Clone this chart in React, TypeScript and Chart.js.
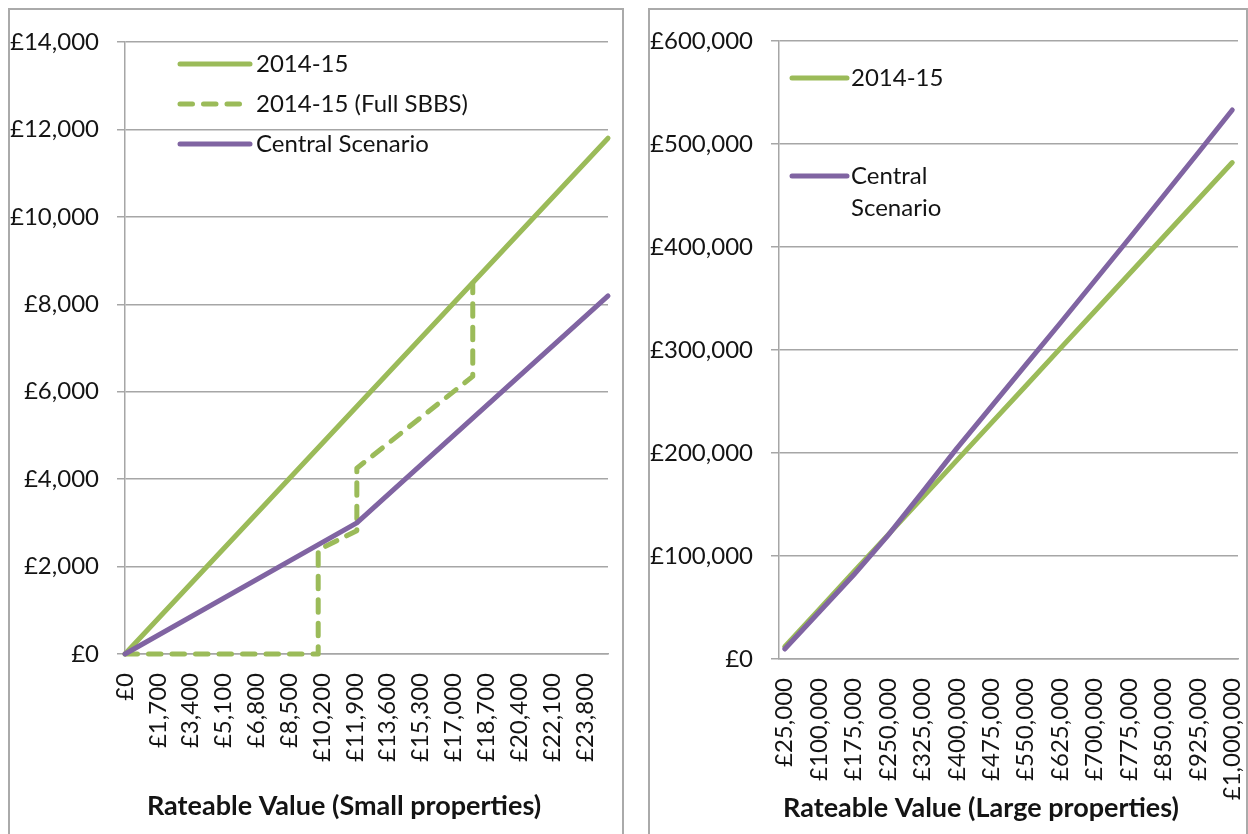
import React, { useEffect, useRef } from "react";
import { Chart, registerables } from "chart.js";

Chart.register(...registerables);

// ---------- DATA ----------
// Left chart: small properties (rateable value, £)
const smallXTicks = [0, 1700, 3400, 5100, 6800, 8500, 10200, 11900, 13600, 15300, 17000, 18700, 20400, 22100, 23800];
const smallYTicks = [0, 2000, 4000, 6000, 8000, 10000, 12000, 14000];
const small2014X = [0, 25000];
const small2014Y = [0, 11800];
const smallSbbsX = [0, 10000, 10000, 12000, 12000, 18000, 18000];
const smallSbbsY = [0, 0, 2380, 2820, 4250, 6350, 8480];
const smallCentralX = [0, 12000, 25000];
const smallCentralY = [0, 3000, 8190];
const smallLegend = [["2014-15"], ["2014-15 (Full SBBS)"], ["Central Scenario"]];
const smallTitle = "Rateable Value (Small properties)";

// Right chart: large properties
const largeXTicks = [25000, 100000, 175000, 250000, 325000, 400000, 475000, 550000, 625000, 700000, 775000, 850000, 925000, 1000000];
const largeYTicks = [0, 100000, 200000, 300000, 400000, 500000, 600000];
const large2014Y = [12000, 48200, 84400, 120500, 156700, 192800, 229000, 265100, 301300, 337400, 373600, 409700, 445900, 482000];
const largeCentralY = [9700, 45600, 81500, 120000, 162000, 204500, 245000, 285500, 326000, 367000, 408000, 449500, 491000, 533000];
const largeLegend = [["2014-15"], ["Central", "Scenario"]];
const largeTitle = "Rateable Value (Large properties)";

// ---------- STYLE ----------
const GREEN = "#9BBB59";
const PURPLE = "#8064A2";
const GRID = "#a6a6a6";
const TEXT = "#141414";
const FONT = "Lato, 'Open Sans', sans-serif";
const FS = 24;
const TITLE_FS = 27;
const DASH = [12.5, 11];

const pts = (xs: number[], ys: number[]) => xs.map((x, i) => ({ x, y: ys[i] }));
const money = (v: number) => "£" + Math.round(v).toLocaleString("en-GB");

const inlineLegend = {
  id: "inlineLegend",
  afterDraw(chart: any, _args: any, opts: any) {
    const { ctx, chartArea } = chart;
    chart.data.datasets.forEach((ds: any, i: number) => {
      const lines: string[] = opts.labels[i];
      const y = chartArea.top + opts.rows[i];
      const x0 = chartArea.left + opts.x0;
      let len = opts.x1 - opts.x0;
      const dash: number[] = ds.borderDash || [];
      if (dash.length === 2) {
        const period = dash[0] + dash[1];
        len = Math.floor((len + dash[1]) / period) * period - dash[1];
      }
      ctx.save();
      ctx.strokeStyle = ds.borderColor;
      ctx.lineWidth = ds.borderWidth;
      ctx.lineCap = "round";
      ctx.setLineDash(dash);
      ctx.beginPath();
      ctx.moveTo(x0, y);
      ctx.lineTo(x0 + len, y);
      ctx.stroke();
      ctx.setLineDash([]);
      ctx.fillStyle = TEXT;
      ctx.font = `${FS}px ${FONT}`;
      ctx.textBaseline = "middle";
      ctx.textAlign = "left";
      lines.forEach((t, j) => ctx.fillText(t, chartArea.left + opts.textX, y + j * opts.lineGap));
      ctx.restore();
    });
  },
};

const axisTitle = {
  id: "axisTitle",
  afterDraw(chart: any, _args: any, opts: any) {
    const { ctx } = chart;
    ctx.save();
    ctx.fillStyle = TEXT;
    ctx.font = `bold ${TITLE_FS}px ${FONT}`;
    ctx.textAlign = "center";
    ctx.textBaseline = "middle";
    ctx.fillText(opts.text, opts.x, opts.y);
    ctx.restore();
  },
};

function makeConfig(p: {
  datasets: any[];
  xMin: number;
  xMax: number;
  xTicks: number[];
  yTicks: number[];
  yWidth: number;
  xHeight: number;
  padding: any;
  legend: any;
  title: any;
}) {
  return {
    type: "line" as const,
    data: { datasets: p.datasets },
    plugins: [inlineLegend, axisTitle],
    options: {
      responsive: false,
      animation: false as const,
      layout: { padding: p.padding },
      elements: { point: { radius: 0, hoverRadius: 0 }, line: { tension: 0 } },
      plugins: {
        legend: { display: false },
        tooltip: { enabled: false },
        inlineLegend: p.legend,
        axisTitle: p.title,
      },
      scales: {
        x: {
          type: "linear" as const,
          min: p.xMin,
          max: p.xMax,
          afterBuildTicks: (s: any) => {
            s.ticks = p.xTicks.map((v) => ({ value: v }));
          },
          afterFit: (s: any) => {
            s.height = p.xHeight;
            s.paddingLeft = 0;
            s.paddingRight = 0;
          },
          grid: { display: false },
          border: { display: true, color: GRID, width: 1.5 },
          ticks: {
            autoSkip: false,
            minRotation: 90,
            maxRotation: 90,
            padding: 11,
            color: TEXT,
            font: { family: FONT, size: FS },
            callback: (v: any) => money(Number(v)),
          },
        },
        y: {
          type: "linear" as const,
          min: p.yTicks[0],
          max: p.yTicks[p.yTicks.length - 1],
          afterBuildTicks: (s: any) => {
            s.ticks = p.yTicks.map((v) => ({ value: v }));
          },
          afterFit: (s: any) => {
            s.width = p.yWidth;
            s.paddingTop = 0;
            s.paddingBottom = 0;
          },
          grid: { color: GRID, lineWidth: 1.5, tickLength: 8, drawTicks: true },
          border: { display: true, color: GRID, width: 1.5 },
          ticks: {
            padding: 18,
            color: TEXT,
            font: { family: FONT, size: FS },
            callback: (v: any) => money(Number(v)),
          },
        },
      },
    },
  };
}

const lineStyle = (color: string, extra: any = {}) => ({
  borderColor: color,
  backgroundColor: color,
  borderWidth: 5,
  borderCapStyle: "round",
  borderJoinStyle: "round",
  pointRadius: 0,
  fill: false,
  clip: 8,
  ...extra,
});

function ChartCanvas({ config, width, height, left, top }: any) {
  const ref = useRef<HTMLCanvasElement | null>(null);
  useEffect(() => {
    if (!ref.current) return;
    const chart = new Chart(ref.current, config);
    return () => chart.destroy();
  }, []);
  return (
    <canvas
      ref={ref}
      width={width}
      height={height}
      style={{ position: "absolute", left, top, width, height }}
    />
  );
}

export default function App() {
  const smallConfig = makeConfig({
    datasets: [
      { label: smallLegend[0].join(" "), data: pts(small2014X, small2014Y), order: 3, ...lineStyle(GREEN) },
      { label: smallLegend[1].join(" "), data: pts(smallSbbsX, smallSbbsY), order: 2, ...lineStyle(GREEN, { borderDash: DASH }) },
      { label: smallLegend[2].join(" "), data: pts(smallCentralX, smallCentralY), order: 1, ...lineStyle(PURPLE) },
    ],
    xMin: 0,
    xMax: 25000,
    xTicks: smallXTicks,
    yTicks: smallYTicks,
    yWidth: 115,
    xHeight: 180,
    padding: { left: 0, top: 32, right: 14, bottom: 0 },
    legend: { labels: smallLegend, rows: [22, 62, 102], x0: 55, x1: 125, textX: 131, lineGap: 32 },
    title: { text: smallTitle, x: 334, y: 796 },
  });

  const largeConfig = makeConfig({
    datasets: [
      { label: largeLegend[0].join(" "), data: pts(largeXTicks, large2014Y), order: 2, ...lineStyle(GREEN) },
      { label: largeLegend[1].join(" "), data: pts(largeXTicks, largeCentralY), order: 1, ...lineStyle(PURPLE) },
    ],
    xMin: 12500,
    xMax: 1012500,
    xTicks: largeXTicks,
    yTicks: largeYTicks,
    yWidth: 129,
    xHeight: 175,
    padding: { left: 0, top: 31, right: 8, bottom: 0 },
    legend: { labels: largeLegend, rows: [37, 135], x0: 13, x1: 68, textX: 72, lineGap: 32 },
    title: { text: largeTitle, x: 331, y: 798 },
  });

  const panel = (left: number, width: number): React.CSSProperties => ({
    position: "absolute",
    left,
    top: 8,
    width,
    height: 860,
    boxSizing: "border-box",
    border: "2px solid #aaaaaa",
    background: "#ffffff",
  });

  return (
    <div
      style={{
        position: "fixed",
        left: 0,
        top: 0,
        width: 1248,
        height: 834,
        overflow: "hidden",
        background: "#ffffff",
      }}
    >
      <div style={panel(8, 616)} />
      <div style={panel(648, 600)} />
      <ChartCanvas config={smallConfig} width={612} height={824} left={10} top={10} />
      <ChartCanvas config={largeConfig} width={596} height={824} left={650} top={10} />
    </div>
  );
}
